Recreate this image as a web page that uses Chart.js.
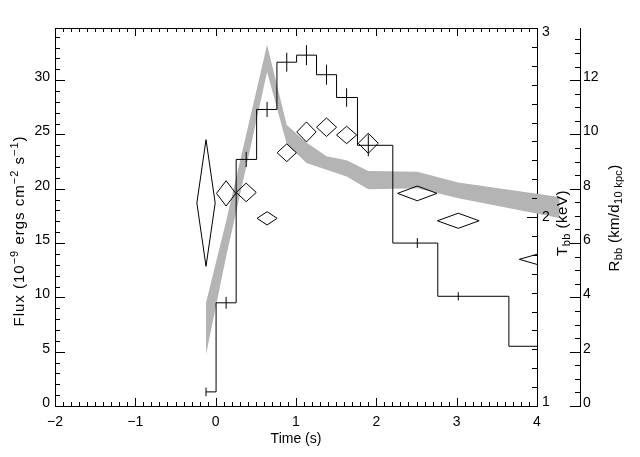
<!DOCTYPE html>
<html>
<head>
<meta charset="utf-8">
<script src="https://cdn.jsdelivr.net/npm/chart.js@4.4.0/dist/chart.umd.min.js"></script>
<style>
  html, body { margin: 0; padding: 0; background: #fff; }
</style>
</head>
<body>
<canvas id="burst" width="640" height="457"></canvas>
<script>
// time-bin centres (s)
const binTime = [-0.12, 0.13, 0.38, 0.64, 0.885, 1.13, 1.38, 1.63, 1.90, 2.51, 3.02, 4.28];

// bolometric flux, 1e-9 ergs/cm2/s
const flux    = [1.3, 9.5, 22.7, 27.3, 31.65, 32.3, 30.5, 28.4, 24.0, 15.0, 10.1, 5.5];
const fluxErr = [0.4, 0.55, 0.7, 0.7, 0.87, 0.92, 0.92, 0.85, 1.0, 0.46, 0.38, 0.3];

// blackbody temperature (keV), drawn as diamonds
const kT       = [2.074, 2.125, 2.13, 1.993, 2.34, 2.45, 2.475, 2.434, 2.39, 2.125, 1.98, 1.776];
const kTErr    = [0.335, 0.067, 0.049, 0.035, 0.047, 0.053, 0.049, 0.046, 0.053, 0.039, 0.04, 0.061];
const kTHalfDt = [0.114, 0.12, 0.125, 0.125, 0.12, 0.12, 0.125, 0.125, 0.125, 0.245, 0.26, 0.5];

// blackbody radius (km / d_10kpc), upper and lower edge of the grey band
const radiusHi = [3.8, 6.8, 10.0, 13.3, 10.35, 9.7, 9.2, 9.05, 8.65, 8.63, 8.23, 7.7];
const radiusLo = [1.9, 5.5, 8.8, 12.3, 9.65, 8.95, 8.7, 8.45, 7.98, 8.02, 7.65, 6.92];

const timeTicks   = [-2, -1, 0, 1, 2, 3, 4];
const fluxTicks   = [0, 5, 10, 15, 20, 25, 30];
const kTTicks     = [1, 2, 3];
const radiusTicks = [0, 2, 4, 6, 8, 10, 12];

const FONT = 'Liberation Sans';
Chart.defaults.font.family = FONT;
Chart.defaults.font.size = 14;
Chart.defaults.color = '#000';

const fluxPts = binTime.map((t, i) => ({ x: t, y: flux[i] }));

const errPts = [];
binTime.forEach((t, i) => {
  errPts.push({ x: t, y: flux[i] - fluxErr[i] }, { x: t, y: flux[i] + fluxErr[i] }, { x: t, y: null });
});

const diamondPts = [];
binTime.forEach((t, i) => {
  const T = kT[i], dT = kTErr[i], dt = kTHalfDt[i];
  diamondPts.push(
    { x: t - dt, y: T }, { x: t, y: T + dT }, { x: t + dt, y: T },
    { x: t, y: T - dT }, { x: t - dt, y: T }, { x: t, y: null }
  );
});

const minus = v => (v < 0 ? '\u2212' + Math.abs(v) : String(v));
const setTicks = arr => s => { s.ticks = arr.map(v => ({ value: v })); };

// grey radius band, drawn under everything and not clipped (like the original)
const bandPlugin = {
  id: 'band',
  beforeDatasetsDraw(chart) {
    const { ctx, scales } = chart;
    const x = scales.x, r = scales.yR;
    ctx.save();
    ctx.fillStyle = 'rgb(180,180,180)';
    ctx.beginPath();
    binTime.forEach((t, i) => {
      const px = x.getPixelForValue(t), py = r.getPixelForValue(radiusHi[i]);
      i === 0 ? ctx.moveTo(px, py) : ctx.lineTo(px, py);
    });
    for (let i = binTime.length - 1; i >= 0; i--) {
      ctx.lineTo(x.getPixelForValue(binTime[i]), r.getPixelForValue(radiusLo[i]));
    }
    ctx.closePath();
    ctx.fill();
    ctx.restore();
  }
};

// IDL style inward ticks + top frame
const tickPlugin = {
  id: 'idlTicks',
  afterDraw(chart) {
    const { ctx, chartArea: a, scales } = chart;
    const al = v => Math.round(v) + 0.5;
    ctx.save();
    ctx.strokeStyle = '#000';
    ctx.lineWidth = 1;
    ctx.beginPath();
    ctx.moveTo(a.left, al(a.top)); ctx.lineTo(a.right, al(a.top));
    for (let i = 0; i <= 60; i++) {
      const px = al(scales.x.getPixelForValue(-2 + i * 0.1));
      const len = i % 10 === 0 ? 8 : 4;
      ctx.moveTo(px, a.bottom); ctx.lineTo(px, a.bottom - len);
      ctx.moveTo(px, a.top); ctx.lineTo(px, a.top + len);
    }
    for (let v = 0; v <= 34; v++) {
      const py = al(scales.y.getPixelForValue(v));
      ctx.moveTo(a.left, py); ctx.lineTo(a.left + (v % 5 === 0 ? 10 : 5), py);
    }
    for (let i = 0; i <= 20; i++) {
      const py = al(scales.yT.getPixelForValue(1 + i * 0.1));
      ctx.moveTo(a.right, py); ctx.lineTo(a.right - (i % 10 === 0 ? 10 : 5), py);
    }
    const rx = scales.yR.left;
    for (let i = 0; i <= 27; i++) {
      const py = al(scales.yR.getPixelForValue(i * 0.5));
      ctx.moveTo(rx, py); ctx.lineTo(rx - (i % 4 === 0 ? 10 : 5), py);
    }
    ctx.stroke();
    ctx.restore();
  }
};

// axis titles with sub/superscripts
function drawRich(ctx, x, y, parts, size, spacing) {
  const big = size + 'px ' + FONT, small = Math.round(size * 0.72) + 'px ' + FONT;
  ctx.save();
  ctx.letterSpacing = spacing + 'px';
  let w = 0;
  parts.forEach(p => { ctx.font = p[1] ? small : big; w += ctx.measureText(p[0]).width; });
  ctx.translate(x, y);
  ctx.rotate(-Math.PI / 2);
  ctx.fillStyle = '#000';
  ctx.textBaseline = 'alphabetic';
  let cx = -w / 2;
  parts.forEach(p => {
    ctx.font = p[1] ? small : big;
    const dy = p[1] === 1 ? -6 : p[1] === -1 ? 3 : 0;
    ctx.fillText(p[0], cx, dy);
    cx += ctx.measureText(p[0]).width;
  });
  ctx.restore();
}

const titlePlugin = {
  id: 'titles',
  afterDraw(chart) {
    const { ctx, chartArea: a, scales } = chart;
    ctx.save();
    ctx.font = '14px ' + FONT;
    ctx.fillStyle = '#000';
    ctx.textAlign = 'left';
    ctx.textBaseline = 'middle';
    // T axis labels sit inside the axis ends, as in the original
    kTTicks.forEach(v => {
      const py = scales.yT.getPixelForValue(v);
      const shift = v === 3 ? 4.5 : v === 1 ? -4 : 0;
      ctx.fillText(String(v), a.right + 5, py + shift);
    });
    ctx.textAlign = 'center';
    ctx.textBaseline = 'alphabetic';
    ctx.fillText('Time (s)', (a.left + a.right) / 2, 443);
    ctx.restore();
    drawRich(ctx, 24, 231, [['Flux (10', 0], ['\u22129', 1], [' ergs cm', 0], ['\u22122', 1], [' s', 0], ['\u22121', 1], [')', 0]], 15, 1);
    drawRich(ctx, 567, 223, [['T', 0], ['bb', -1], [' (keV)', 0]], 15, 0.5);
    drawRich(ctx, 619, 218, [['R', 0], ['bb', -1], [' (km/d', 0], ['10 kpc', -1], [')', 0]], 15, 0.3);
  }
};

new Chart(document.getElementById('burst'), {
  type: 'line',
  data: {
    datasets: [
      {
        label: 'Flux',
        data: fluxPts,
        yAxisID: 'y',
        stepped: 'middle',
        borderColor: '#000',
        borderWidth: 1,
        pointRadius: 0,
        fill: false
      },
      {
        label: 'Flux error',
        data: errPts,
        yAxisID: 'y',
        borderColor: '#000',
        borderWidth: 1,
        pointRadius: 0,
        spanGaps: false,
        fill: false
      },
      {
        label: 'kT',
        data: diamondPts,
        yAxisID: 'yT',
        borderColor: '#000',
        borderWidth: 1,
        pointRadius: 0,
        spanGaps: false,
        fill: false
      }
    ]
  },
  options: {
    responsive: false,
    animation: false,
    events: [],
    layout: { padding: { top: 28, left: 0, right: 0, bottom: 0 } },
    plugins: { legend: { display: false }, tooltip: { enabled: false } },
    scales: {
      x: {
        type: 'linear', position: 'bottom', min: -2, max: 4,
        afterBuildTicks: setTicks(timeTicks),
        afterFit: s => { s.height = 51; },
        ticks: { callback: minus, padding: 8, maxRotation: 0, autoSkip: false },
        grid: { display: false, drawTicks: false },
        border: { color: '#000', width: 1 }
      },
      y: {
        type: 'linear', position: 'left', min: 0, max: 34.8,
        afterBuildTicks: setTicks(fluxTicks),
        afterFit: s => { s.width = 55; },
        ticks: { padding: 5, labelOffset: -3 },
        grid: { display: false, drawTicks: false },
        border: { color: '#000', width: 1 }
      },
      yT: {
        type: 'linear', position: 'right', weight: 0, min: 1, max: 3,
        afterBuildTicks: setTicks(kTTicks),
        afterFit: s => { s.width = 43; },
        ticks: { display: false },
        grid: { display: false, drawTicks: false },
        border: { color: '#000', width: 1 }
      },
      yR: {
        type: 'linear', position: 'right', weight: 1, min: 0, max: 13.92,
        afterBuildTicks: setTicks(radiusTicks),
        afterFit: s => { s.width = 60; },
        ticks: { padding: 3, labelOffset: -3 },
        grid: { display: false, drawTicks: false },
        border: { color: '#000', width: 1 }
      }
    }
  },
  plugins: [bandPlugin, tickPlugin, titlePlugin]
});
</script>
</body>
</html>
